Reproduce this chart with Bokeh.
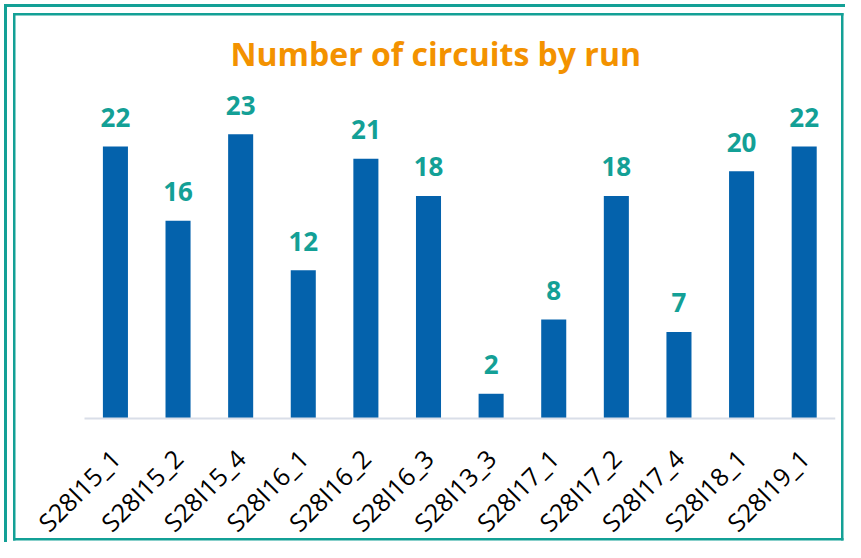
from bokeh.plotting import figure
from bokeh.models import Range1d, ColumnDataSource, FixedTicker
from bokeh.core.properties import value
from bokeh.embed import file_html
from bokeh.resources import INLINE
import math

runs = ["S28I15_1", "S28I15_2", "S28I15_4", "S28I16_1", "S28I16_2", "S28I16_3",
        "S28I13_3", "S28I17_1", "S28I17_2", "S28I17_4", "S28I18_1", "S28I19_1"]
circuits = [22, 16, 23, 12, 21, 18, 2, 8, 18, 7, 20, 22]

TEAL = "#13a096"
BLUE = "#0462ac"
ORANGE = "#f39200"

pos = list(range(len(runs)))
src = ColumnDataSource(dict(x=pos, run=runs, n=circuits, lab=[str(v) for v in circuits]))

W, H = 845, 542
p = figure(width=W, height=H, x_range=Range1d(-1.5, len(runs) - 0.5),
           y_range=Range1d(-10.03, 27.5),
           output_backend="svg", toolbar_location=None,
           min_border_left=21, min_border_right=10, min_border_top=78, min_border_bottom=0)

p.title.text = "Number of circuits by run"
p.title.align = "left"
p.title.offset = 209
p.title.text_color = ORANGE
p.title.text_font = "Open Sans"
p.title.text_font_style = "bold"
p.title.text_font_size = "32px"
p.title.standoff = 8

p.vbar(x="x", bottom=0, top="n", width=0.4, source=src, fill_color=BLUE, line_color=None)
p.text(x="x", y="n", text="lab", source=src, text_align="center",
       text_baseline="alphabetic", y_offset=-29, text_color=TEAL,
       text_font=value("Open Sans"), text_font_style="bold", text_font_size="26px")

p.yaxis.visible = False
p.xgrid.visible = False
p.ygrid.visible = False
p.outline_line_color = None
p.border_fill_alpha = 0
p.background_fill_alpha = 0

ax = p.xaxis[0]
ax.fixed_location = 0
ax.bounds = (-0.5, len(runs) - 0.5)
ax.ticker = FixedTicker(ticks=pos, minor_ticks=[])
ax.major_label_overrides = {i: r for i, r in zip(pos, runs)}
ax.axis_line_color = "#d9dee8"
ax.axis_line_width = 2
ax.major_tick_line_color = None
ax.minor_tick_line_color = None
ax.major_tick_out = 0
ax.major_tick_in = 0
ax.major_label_orientation = math.pi / 4
ax.major_label_standoff = 35
ax.major_label_text_font = "Open Sans"
ax.major_label_text_font_size = "25px"
ax.major_label_text_color = "#000000"

# double teal frame of the slide, painted as the element background
g = "linear-gradient(%s,%s)" % (TEAL, TEAL)
layers = [
    g + " 4px 4px / 3px 538px no-repeat",
    g + " 4px 4px / 841px 3px no-repeat",
    g + " 13px 13px / 2.5px 527.5px no-repeat",
    g + " 13px 13px / 830.5px 2.5px no-repeat",
    g + " 841px 13px / 2.5px 527.5px no-repeat",
    g + " 13px 538px / 830.5px 2.5px no-repeat",
    "#ffffff",
]
p.styles = {"background": ", ".join(layers)}

open("out.html", "w").write(file_html(p, INLINE))
